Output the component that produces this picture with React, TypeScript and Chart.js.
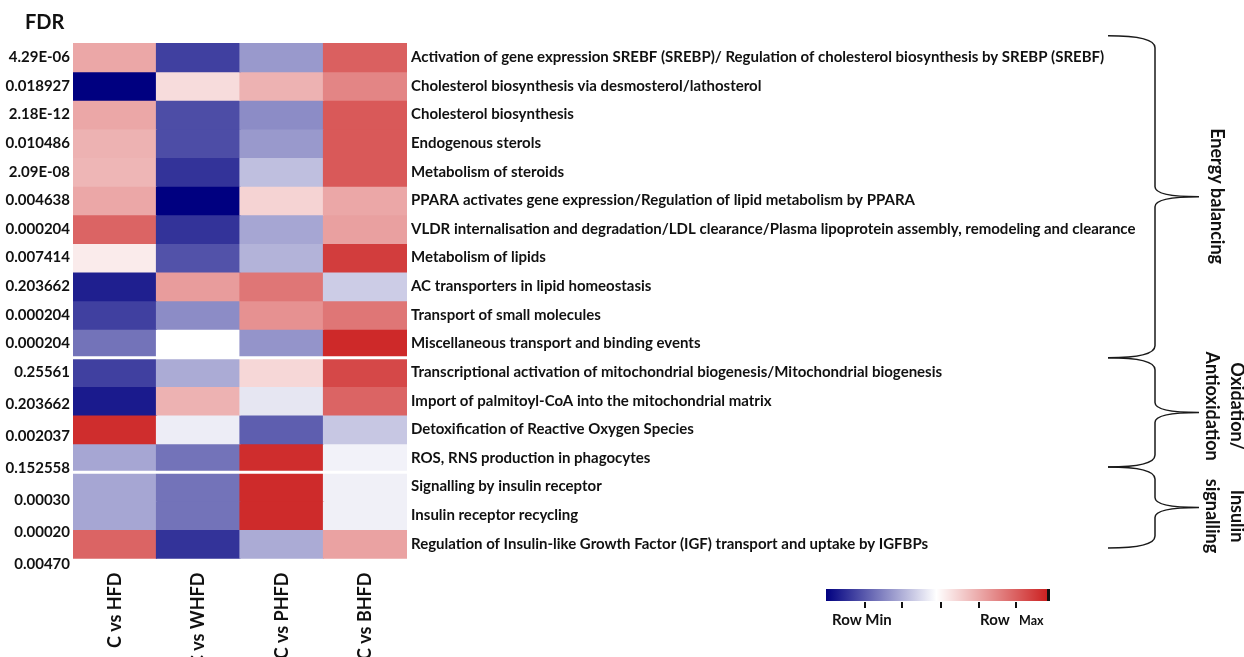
import React, { useEffect, useRef } from 'react';
import { Chart, registerables } from 'chart.js';

Chart.register(...registerables);

const comparisons = ['C vs HFD', 'C vs WHFD', 'C vs PHFD', 'C vs BHFD'];

const pathways = [
  'Activation of gene expression SREBF (SREBP)/ Regulation of cholesterol biosynthesis by SREBP (SREBF)',
  'Cholesterol biosynthesis via desmosterol/lathosterol',
  'Cholesterol biosynthesis',
  'Endogenous sterols',
  'Metabolism of steroids',
  'PPARA activates gene expression/Regulation of lipid metabolism by PPARA',
  'VLDR internalisation and degradation/LDL clearance/Plasma lipoprotein assembly, remodeling and clearance',
  'Metabolism of lipids',
  'AC transporters in lipid homeostasis',
  'Transport of small molecules',
  'Miscellaneous transport and binding events',
  'Transcriptional activation of mitochondrial biogenesis/Mitochondrial biogenesis',
  'Import of palmitoyl-CoA into the mitochondrial matrix',
  'Detoxification of Reactive Oxygen Species',
  'ROS, RNS production in phagocytes',
  'Signalling by insulin receptor',
  'Insulin receptor recycling',
  'Regulation of Insulin-like Growth Factor (IGF) transport and uptake by IGFBPs',
];

const fdrLabels = [
  '4.29E-06', '0.018927', '2.18E-12', '0.010486', '2.09E-08', '0.004638',
  '0.000204', '0.007414', '0.203662', '0.000204', '0.000204', '0.25561',
  '0.203662', '0.002037', '0.152558', '0.00030', '0.00020', '0.00470',
];

// Row-scaled values: -1 = row min (navy), 0 = white, +1 = row max (red)
const hfd = [0.4, -1, 0.4, 0.35, 0.33, 0.4, 0.7, 0.09, -0.88, -0.75, -0.55, -0.75, -0.9, 0.95, -0.35, -0.35, -0.35, 0.7];
const whfd = [-0.75, 0.16, -0.7, -0.7, -0.8, -1, -0.8, -0.68, 0.45, -0.45, 0, -0.33, 0.35, -0.07, -0.55, -0.55, -0.55, -0.8];
const phfd = [-0.4, 0.35, -0.45, -0.4, -0.25, 0.2, -0.35, -0.3, 0.62, 0.5, -0.42, 0.18, -0.1, -0.63, 0.95, 0.96, 0.96, -0.33];
const bhfd = [0.72, 0.55, 0.75, 0.75, 0.75, 0.4, 0.43, 0.88, -0.2, 0.62, 0.97, 0.83, 0.7, -0.22, -0.05, -0.06, -0.06, 0.42];

const groupNames = [['Energy balancing'], ['Oxidation/', 'Antioxidation'], ['Insulin', 'signalling']];
const legendLabels = ['Row Min', 'Row', 'Max'];

const FONT = 'Lato, "Liberation Sans", sans-serif';
const TEXT = '#111111';

function heatColor(v: number): string {
  if (v < 0) {
    const t = -v;
    return `rgb(${Math.round(255 - 255 * t)},${Math.round(255 - 255 * t)},${Math.round(255 - 127 * t)})`;
  }
  const t = v;
  return `rgb(${Math.round(255 - 51 * t)},${Math.round(255 - 221 * t)},${Math.round(255 - 221 * t)})`;
}

const series = [hfd, whfd, phfd, bhfd];

const decorPlugin = {
  id: 'decor',
  afterDraw(chart: any) {
    const { ctx, chartArea } = chart;
    const y = chart.scales.y;
    ctx.save();
    // FDR header
    ctx.fillStyle = TEXT;
    ctx.font = `bold 20px ${FONT}`;
    ctx.textAlign = 'left';
    ctx.textBaseline = 'middle';
    ctx.fillText('FDR', 25, 23);

    // white separators between blocks
    ctx.strokeStyle = '#ffffff';
    ctx.lineWidth = 3;
    [11, 15].forEach((b) => {
      const py = y.getPixelForValue(b);
      ctx.beginPath();
      ctx.moveTo(chartArea.left, py);
      ctx.lineTo(chartArea.right, py);
      ctx.stroke();
    });

    // braces
    const spans = [
      [-0.25, 11, 5.35],
      [11, 14.82, 12.69],
      [14.82, 17.65, 16.53],
    ];
    const hookX = 1108;
    const spineX = 1155;
    const tipX = 1199;
    ctx.strokeStyle = '#1a1a1a';
    ctx.lineWidth = 1.5;
    spans.forEach(([a, b, c], gi) => {
      const top = y.getPixelForValue(a);
      const bot = y.getPixelForValue(b);
      const mid = (top + bot) / 2;
      ctx.beginPath();
      ctx.moveTo(hookX, top);
      ctx.quadraticCurveTo(spineX, top, spineX, top + 12);
      ctx.lineTo(spineX, mid - 10);
      ctx.quadraticCurveTo(spineX, mid, tipX, mid);
      ctx.moveTo(tipX, mid);
      ctx.quadraticCurveTo(spineX, mid, spineX, mid + 10);
      ctx.lineTo(spineX, bot - 12);
      ctx.quadraticCurveTo(spineX, bot, hookX, bot);
      ctx.stroke();

      // group label (rotated clockwise)
      const lines = groupNames[gi];
      const cy = y.getPixelForValue(c);
      ctx.save();
      ctx.fillStyle = TEXT;
      ctx.font = `bold 18px ${FONT}`;
      ctx.textAlign = 'center';
      ctx.textBaseline = 'middle';
      lines.forEach((ln, li) => {
        const cx = lines.length === 1 ? 1217 : (li === 0 ? 1237 : 1212);
        ctx.save();
        ctx.translate(cx, cy);
        ctx.rotate(Math.PI / 2);
        ctx.fillText(ln, 0, 0);
        ctx.restore();
      });
      ctx.restore();
    });

    // colour bar legend
    const bx = 826, by = 589, bw = 221, bh = 12;
    const g = ctx.createLinearGradient(bx, 0, bx + bw, 0);
    g.addColorStop(0, heatColor(-1));
    g.addColorStop(0.5, heatColor(0));
    g.addColorStop(1, heatColor(1));
    ctx.fillStyle = g;
    ctx.fillRect(bx, by, bw, bh);
    ctx.fillStyle = '#111';
    ctx.fillRect(bx + bw, by, 3, bh);
    [865, 902, 941, 979, 1016].forEach((tx) => {
      ctx.fillRect(tx - 1, by + bh + 1, 2, 6);
    });
    ctx.fillStyle = TEXT;
    ctx.textBaseline = 'middle';
    ctx.textAlign = 'left';
    ctx.font = `bold 15px ${FONT}`;
    ctx.fillText(legendLabels[0], 832, 620);
    ctx.fillText(legendLabels[1], 980, 620);
    ctx.font = `bold 12.5px ${FONT}`;
    ctx.fillText(legendLabels[2], 1019, 621);
    ctx.restore();
  },
};

const fdrTickPos = fdrLabels.map((_, i) => (i < 12 ? i + 0.5 : 11.5 + (i - 11) * 1.12));
const rowTickPos = pathways.map((_, i) => i + 0.5);

export default function App() {
  const ref = useRef<HTMLCanvasElement | null>(null);

  useEffect(() => {
    if (!ref.current) return;
    const datasets = pathways.map((p, r) => ({
      label: p,
      data: comparisons.map(() => [r, r + 1]),
      backgroundColor: series.map((s) => heatColor(s[r])),
      borderWidth: 0,
      borderSkipped: false,
      inflateAmount: 0.6,
      grouped: false,
      categoryPercentage: 1,
      barPercentage: 1,
      yAxisID: 'y',
    }));

    const yCommon = {
      type: 'linear' as const,
      reverse: true,
      min: 0,
      max: 18.4,
      grid: { display: false, drawTicks: false },
      border: { display: false },
    };

    const chart = new Chart(ref.current, {
      type: 'bar',
      data: { labels: comparisons, datasets: datasets as any },
      options: {
        responsive: false,
        animation: false,
        layout: { padding: { top: 43, left: 0, right: 0, bottom: 0 } },
        plugins: { legend: { display: false }, tooltip: { enabled: false }, title: { display: false } },
        scales: {
          x: {
            type: 'category',
            grid: { display: false, drawTicks: false },
            border: { display: false },
            ticks: {
              minRotation: 90,
              maxRotation: 90,
              autoSkip: false,
              padding: 3,
              color: TEXT,
              font: { family: FONT, weight: 'bold', size: 18 },
            },
            afterFit: (s: any) => {
              s.height = 657 - 569.5;
            },
          },
          y: {
            ...yCommon,
            position: 'left',
            afterBuildTicks: (s: any) => {
              s.ticks = fdrTickPos.map((v) => ({ value: v }));
            },
            ticks: {
              autoSkip: false,
              padding: 3,
              color: TEXT,
              font: { family: FONT, weight: 'bold', size: 15 },
              callback: (_v: any, i: number) => fdrLabels[i],
            },
            afterFit: (s: any) => {
              s.width = 73;
            },
          },
          y2: {
            ...yCommon,
            position: 'right',
            afterBuildTicks: (s: any) => {
              s.ticks = rowTickPos.map((v) => ({ value: v }));
            },
            ticks: {
              autoSkip: false,
              padding: 4,
              color: TEXT,
              font: { family: FONT, weight: 'bold', size: 15 },
              callback: (_v: any, i: number) => pathways[i],
            },
            afterFit: (s: any) => {
              s.width = 1244 - 407;
            },
          },
        } as any,
      },
      plugins: [decorPlugin],
    });
    return () => chart.destroy();
  }, []);

  return (
    <div style={{ position: 'absolute', left: 0, top: 0, width: 1244, height: 657, background: '#fff' }}>
      <canvas ref={ref} width={1244} height={657} style={{ display: 'block' }} />
    </div>
  );
}
